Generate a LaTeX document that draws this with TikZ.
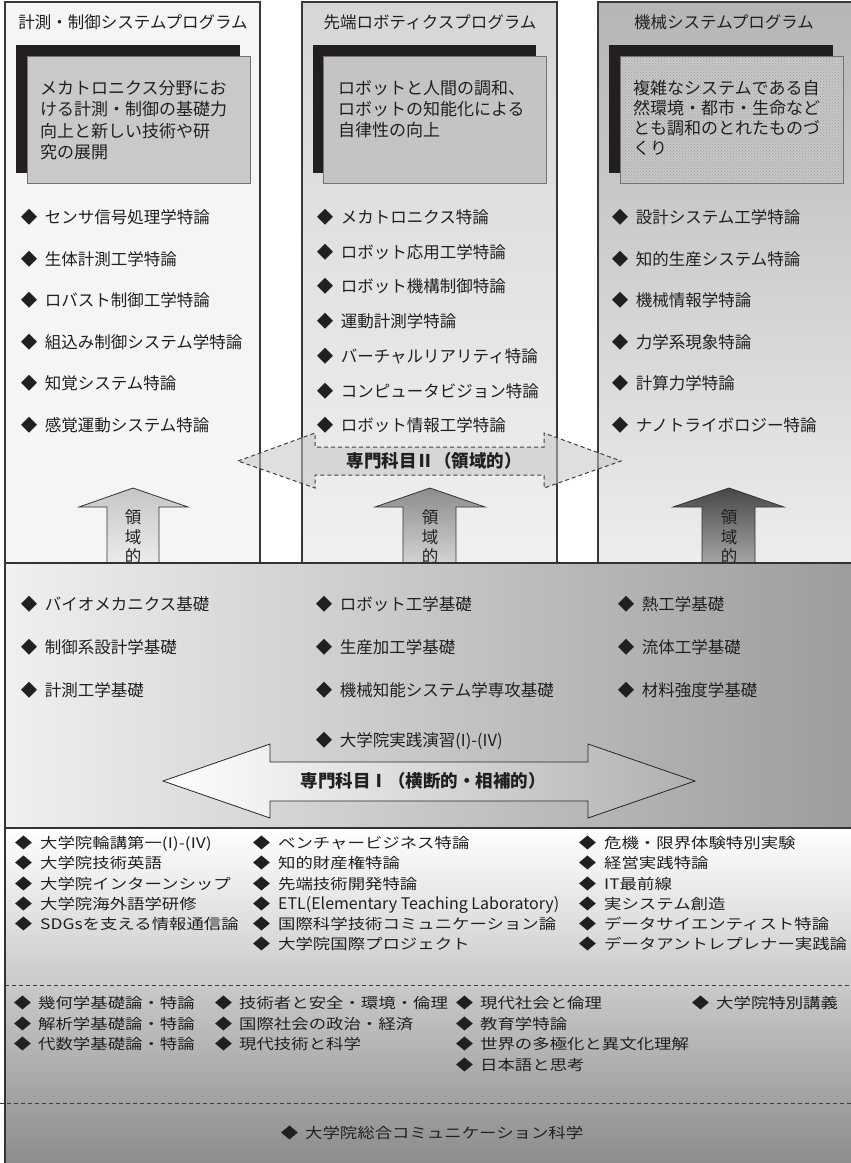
\documentclass[tikz,border=0pt]{standalone}
\usepackage{fontspec}
\setmainfont{Noto Sans CJK JP}
\newfontfamily\widefont[FakeStretch=1.2]{Noto Sans CJK JP}
\usetikzlibrary{patterns}
\definecolor{ink}{HTML}{231F20}
\newcommand{\diagap}{7.5pt}
\newcommand{\dia}{◆\hspace{\diagap}}

\begin{document}
\begin{tikzpicture}[x=1pt, y=-1pt,
    colframe/.style={draw=black!78, line width=1.2pt},
    shadowbox/.style={fill=ink},
    goalbox/.style={draw=black!55, line width=0.8pt},
    progtitle/.style={inner sep=0pt, text=ink, font=\fontsize{16.5}{20}\selectfont},
    goaltext/.style={anchor=north west, align=left, inner sep=0pt, text=ink, font=\fontsize{17}{21.5}\selectfont},
    courses/.style={anchor=north west, align=left, inner sep=0pt, text=ink},
    upperlist/.style={courses, font=\fontsize{16.5}{41.6}\selectfont},
    midlist/.style={courses, font=\fontsize{16.5}{43}\selectfont},
    lowlist/.style={courses, font={\widefont\fontsize{14.5}{20.2}\selectfont\renewcommand{\diagap}{8pt}}},
    baselist/.style={courses, font={\widefont\fontsize{14.5}{20.5}\selectfont\renewcommand{\diagap}{7pt}}},
    uparrow/.style={draw=black!80, line width=0.8pt},
    vertlabel/.style={align=center, inner sep=0pt, text=ink, font=\fontsize{16.5}{19.5}\selectfont},
    arrowlabel/.style={inner sep=0pt, text=ink, font=\bfseries\fontsize{17.5}{20}\selectfont},
    bandline/.style={draw=black!80, line width=1.8pt},
    dashsep/.style={draw=black!75, line width=1pt, dash pattern=on 4pt off 3pt}
]
\useasboundingbox (0,0) rectangle (851,1163);
\fill[white] (0,0) rectangle (851,1163);

\draw[colframe, fill=gray!8] (5,2) rectangle (260,563);
\draw[colframe, top color=gray!32, bottom color=gray!12] (302,2) rectangle (557,563);
\draw[colframe, top color=gray!58, bottom color=gray!14] (598,2) rectangle (862,563);

\fill[shadowbox] (16,45) rectangle (240,173);
\draw[goalbox, fill=gray!42] (27,56) rectangle (250,183);
\fill[shadowbox] (313,45) rectangle (536,173);
\draw[goalbox, fill=gray!46] (323,56) rectangle (546,183);
\fill[shadowbox] (609,45) rectangle (833,173);
\draw[goalbox, preaction={fill=gray!45}, pattern=crosshatch dots, pattern color=gray!75] (620,56) rectangle (843,183);

\node (prog1) [progtitle] at (133,22) {計測・制御システムプログラム};
\node (prog2) [progtitle] at (430,22) {先端ロボティクスプログラム};
\node (prog3) [progtitle] at (724,22) {機械システムプログラム};

\node (goal1) [goaltext] at (40,80) {メカトロニクス分野にお\\ける計測・制御の基礎力\\向上と新しい技術や研\\究の展開};
\node (goal2) [goaltext, font=\fontsize{17}{21}\selectfont] at (338,80) {ロボットと人間の調和、\\ロボットの知能化による\\自律性の向上};
\node (goal3) [goaltext, font=\fontsize{17}{20}\selectfont] at (633,80) {複雑なシステムである自\\然環境・都市・生命など\\とも調和のとれたものづ\\くり};

\node (area1) [upperlist] at (20.7,209) {\dia センサ信号処理学特論\\\dia 生体計測工学特論\\\dia ロバスト制御工学特論\\\dia 組込み制御システム学特論\\\dia 知覚システム特論\\\dia 感覚運動システム特論};
\node (area2) [upperlist, font=\fontsize{16.5}{34.7}\selectfont] at (316.7,209) {\dia メカトロニクス特論\\\dia ロボット応用工学特論\\\dia ロボット機構制御特論\\\dia 運動計測学特論\\\dia バーチャルリアリティ特論\\\dia コンピュータビジョン特論\\\dia ロボット情報工学特論};
\node (area3) [upperlist] at (611.7,209) {\dia 設計システム工学特論\\\dia 知的生産システム特論\\\dia 機械情報学特論\\\dia 力学系現象特論\\\dia 計算力学特論\\\dia ナノトライボロジー特論};

\draw[draw=none, left color=gray!12, right color=gray!78] (5,563) rectangle (862,828);
\draw[draw=none, top color=white, bottom color=gray!90] (5,828) rectangle (862,1163);

\draw[uparrow, top color=gray!45, bottom color=gray!15] (107,563) -- (107,507) -- (79,507) -- (133,488) -- (188,507) -- (159,507) -- (159,563) -- cycle;
\draw[uparrow, top color=gray!90, bottom color=gray!35] (403,563) -- (403,507) -- (375,507) -- (430,488) -- (485,507) -- (456,507) -- (456,563) -- cycle;
\draw[uparrow, top color=black!72, bottom color=gray!70] (702,563) -- (702,507) -- (673,507) -- (729,488) -- (784,507) -- (755,507) -- (755,563) -- cycle;
\node (dom1) [vertlabel] at (133,537) {領\\域\\的};
\node (dom2) [vertlabel] at (430,537) {領\\域\\的};
\node (dom3) [vertlabel] at (729,537) {領\\域\\的};

\draw[dashsep, fill=gray!45, fill opacity=0.55] (238,461) -- (315,433) -- (315,447) -- (544,447) -- (544,433) -- (621,461) -- (544,488) -- (544,475) -- (315,475) -- (315,488) -- cycle;
\node (spec2) [arrowlabel] at (434,461) {専門科目Ⅱ（領域的）};

\draw[bandline] (5,563) -- (862,563);
\draw[bandline] (5,828) -- (862,828);
\draw[bandline] (5,563) -- (5,1163);

\node (base1) [midlist] at (20.7,596) {\dia バイオメカニクス基礎\\\dia 制御系設計学基礎\\\dia 計測工学基礎};
\node (base2) [midlist] at (315.7,596) {\dia ロボット工学基礎\\\dia 生産加工学基礎\\\dia 機械知能システム学専攻基礎\\[7pt]\dia 大学院実践演習(I)-(IV)};
\node (base3) [midlist] at (617.7,596) {\dia 熱工学基礎\\\dia 流体工学基礎\\\dia 材料強度学基礎};

\draw[draw=black!85, line width=0.8pt, left color=white, right color=gray!62] (163,781) -- (270,744) -- (270,762) -- (588,762) -- (588,744) -- (695,781) -- (588,818) -- (588,801) -- (270,801) -- (270,818) -- cycle;
\node (spec1) [arrowlabel] at (423,781) {専門科目Ⅰ（横断的・相補的）};

\node (common1) [lowlist] at (14.6,836) {\dia 大学院輪講第一(I)-(IV)\\\dia 大学院技術英語\\\dia 大学院インターンシップ\\\dia 大学院海外語学研修\\\dia SDGsを支える情報通信論};
\node (common2) [lowlist] at (252.6,836) {\dia ベンチャービジネス特論\\\dia 知的財産権特論\\\dia 先端技術開発特論\\\dia {\normalfont\fontsize{16}{20.2}\selectfont ETL(Elementary Teaching Laboratory)}\\\dia 国際科学技術コミュニケーション論\\\dia 大学院国際プロジェクト};
\node (common3) [lowlist] at (578.6,836) {\dia 危機・限界体験特別実験\\\dia 経営実践特論\\\dia IT最前線\\\dia 実システム創造\\\dia データサイエンティスト特論\\\dia データアントレプレナー実践論};

\draw[dashsep] (5,985) -- (851,985);
\draw[dashsep] (0,1103) -- (851,1103);

\node (liberal1) [baselist] at (13.6,996) {\dia 幾何学基礎論・特論\\\dia 解析学基礎論・特論\\\dia 代数学基礎論・特論};
\node (liberal2) [baselist] at (214.6,996) {\dia 技術者と安全・環境・倫理\\\dia 国際社会の政治・経済\\\dia 現代技術と科学};
\node (liberal3) [baselist] at (455.6,996) {\dia 現代社会と倫理\\\dia 教育学特論\\\dia 世界の多極化と異文化理解\\\dia 日本語と思考};
\node (liberal4) [baselist] at (691.6,996) {\dia 大学院特別講義};
\node (comm) [baselist, anchor=west] at (280.6,1133) {\dia 大学院総合コミュニケーション科学};
\end{tikzpicture}
\end{document}
